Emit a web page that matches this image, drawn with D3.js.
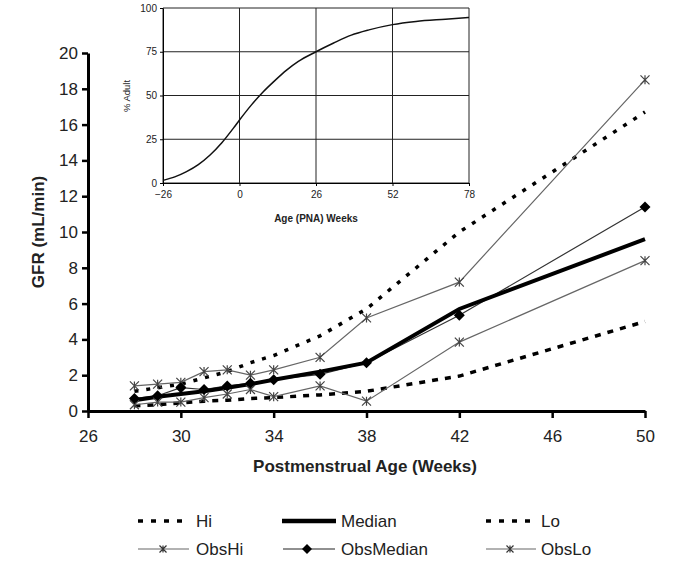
<!DOCTYPE html>
<html><head><meta charset="utf-8">
<script src="https://cdn.jsdelivr.net/npm/d3@7"></script>
<style>body{margin:0;background:#fff}svg{display:block}text{font-family:"Liberation Sans",Arial,sans-serif}</style>
</head><body><svg id="c" width="680" height="563"></svg>
<script>
// Main chart data
const weeks = [28,29,30,31,32,33,34,36,38,42,50];
const hi        = [1.1,1.3,1.5,1.85,2.2,2.7,3.1,4.2,5.7,10.0,16.7];
const median    = [0.6,0.8,0.95,1.1,1.3,1.5,1.75,2.2,2.7,5.7,9.6];
const lo        = [0.3,0.35,0.45,0.55,0.6,0.7,0.75,0.9,1.1,1.95,5.0];
const obsHi     = [1.4,1.5,1.6,2.2,2.3,2.0,2.3,3.0,5.2,7.2,18.5];
const obsMedian = [0.7,0.85,1.3,1.2,1.4,1.55,1.75,2.05,2.7,5.35,11.4];
const obsLo     = [0.35,0.5,0.5,0.75,0.95,1.2,0.8,1.4,0.55,3.85,8.4];
const xTicks = [26,30,34,38,42,46,50];
const yTicks = [0,2,4,6,8,10,12,14,16,18,20];
// Inset data
const pnaWeeks = [-26,-22,-18,-14,-10,-6,-2,0,4,8,12,16,20,26,32,38,44,52,60,70,78];
const pctAdult = [1.5,3.5,6.5,10.5,16,23,31.5,36,44.5,52,58.5,64.5,69.5,75,80,84.5,87.5,90.5,92.3,93.6,94.6];
const insetXTicks = [-26,0,26,52,78];
const insetYTicks = [0,25,50,75,100];

const svg = d3.select("#c");
const x = d3.scaleLinear().domain([26,50]).range([88,645]);
const y = d3.scaleLinear().domain([0,20]).range([411,53]);

// axes
const gx = svg.append("g").attr("transform","translate(0,411)")
  .call(d3.axisBottom(x).tickValues(xTicks).tickSize(7).tickPadding(12).tickSizeOuter(0));
gx.select(".domain").attr("stroke","#000").attr("stroke-width",3);
gx.selectAll(".tick line").attr("stroke-width",2.5);
gx.selectAll("text").attr("font-size",17).attr("fill","#222");
const gy = svg.append("g").attr("transform","translate(88,0)")
  .call(d3.axisLeft(y).tickValues(yTicks).tickSize(6).tickPadding(4).tickSizeOuter(0));
gy.select(".domain").attr("stroke","#000").attr("stroke-width",3);
gy.selectAll(".tick line").attr("stroke-width",2.5);
gy.selectAll("text").attr("font-size",17).attr("fill","#222");

svg.append("text").attr("x",365).attr("y",472).attr("text-anchor","middle")
  .attr("font-size",17).attr("font-weight","bold").attr("fill","#222").text("Postmenstrual Age (Weeks)");
svg.append("text").attr("transform","translate(44,232) rotate(-90)").attr("text-anchor","middle")
  .attr("font-size",17).attr("font-weight","bold").attr("fill","#222").text("GFR (mL/min)");

const line = d3.line().x((d,i)=>x(weeks[i])).y(d=>y(d));
function star(g, cx, cy, s, col){
  const p = `M${cx-s},${cy-s}L${cx+s},${cy+s}M${cx-s},${cy+s}L${cx+s},${cy-s}M${cx},${cy-s}L${cx},${cy+s}`;
  g.append("path").attr("d",p).attr("stroke",col).attr("stroke-width",1.2).attr("fill","none");
}
function diamond(g,cx,cy,s){
  g.append("path").attr("d",`M${cx},${cy-s}L${cx+s},${cy}L${cx},${cy+s}L${cx-s},${cy}Z`).attr("fill","#000");
}
const plot = svg.append("g");
plot.append("path").attr("d",line(lo)).attr("fill","none").attr("stroke","#000").attr("stroke-width",3.5).attr("stroke-dasharray","6,7");
plot.append("path").attr("d",line(hi)).attr("fill","none").attr("stroke","#000").attr("stroke-width",3.5).attr("stroke-dasharray","4,8");
plot.append("path").attr("d",line(obsLo)).attr("fill","none").attr("stroke","#666").attr("stroke-width",1.2);
plot.append("path").attr("d",line(obsHi)).attr("fill","none").attr("stroke","#666").attr("stroke-width",1.2);
plot.append("path").attr("d",line(obsMedian)).attr("fill","none").attr("stroke","#333").attr("stroke-width",1.2);
plot.append("path").attr("d",line(median)).attr("fill","none").attr("stroke","#000").attr("stroke-width",4);
obsHi.forEach((v,i)=>star(plot,x(weeks[i]),y(v),4.5,"#444"));
obsLo.forEach((v,i)=>star(plot,x(weeks[i]),y(v),4.5,"#444"));
obsMedian.forEach((v,i)=>diamond(plot,x(weeks[i]),y(v),5.5));

// inset
const ix = d3.scaleLinear().domain([-26,78]).range([163,469]);
const iy = d3.scaleLinear().domain([0,100]).range([183,8]);
const ins = svg.append("g");
ins.append("rect").attr("x",163).attr("y",8).attr("width",306).attr("height",175).attr("fill","#fff");
insetYTicks.forEach(t=>ins.append("line").attr("x1",163).attr("x2",469).attr("y1",iy(t)).attr("y2",iy(t)).attr("stroke","#222").attr("stroke-width",1));
insetXTicks.forEach(t=>ins.append("line").attr("x1",ix(t)).attr("x2",ix(t)).attr("y1",8).attr("y2",183).attr("stroke","#222").attr("stroke-width",1));
const iax = ins.append("g").attr("transform","translate(0,183)").call(d3.axisBottom(ix).tickValues(insetXTicks).tickSize(3).tickPadding(5).tickSizeOuter(0));
iax.selectAll("text").attr("font-size",10).attr("fill","#222");
const iay = ins.append("g").attr("transform","translate(163,0)").call(d3.axisLeft(iy).tickValues(insetYTicks).tickSize(3).tickPadding(3).tickSizeOuter(0));
iay.selectAll("text").attr("font-size",10).attr("fill","#222");
ins.append("path").attr("d",d3.line().x((d,i)=>ix(pnaWeeks[i])).y(d=>iy(d)).curve(d3.curveMonotoneX)(pctAdult))
  .attr("fill","none").attr("stroke","#111").attr("stroke-width",1.5);
ins.append("text").attr("x",316).attr("y",222).attr("text-anchor","middle").attr("font-size",10).attr("font-weight","bold").attr("fill","#222").text("Age (PNA) Weeks");
ins.append("text").attr("transform","translate(130,96) rotate(-90)").attr("text-anchor","middle").attr("font-size",9.5).attr("fill","#222").text("% Adult");

// legend
const leg = svg.append("g");
const r1 = 521, r2 = 549;
function legLine(x1,x2,yy,w,dash,col){
  const l = leg.append("line").attr("x1",x1).attr("x2",x2).attr("y1",yy).attr("y2",yy).attr("stroke",col).attr("stroke-width",w);
  if(dash) l.attr("stroke-dasharray",dash);
}
function legText(xx,yy,t){leg.append("text").attr("x",xx).attr("y",yy+6).attr("font-size",17).attr("fill","#222").text(t);}
legLine(138,190,r1,3.5,"5,8","#000"); legText(196,r1,"Hi");
legLine(282,336,r1,4.5,null,"#000"); legText(341,r1,"Median");
legLine(486,537,r1,3.5,"5,8","#000"); legText(541,r1,"Lo");
legLine(138,189,r2,1.2,null,"#666"); star(leg,163,r2,3.5,"#333"); legText(196,r2,"ObsHi");
legLine(283,335,r2,1.2,null,"#222"); diamond(leg,307,r2,5); legText(341,r2,"ObsMedian");
legLine(486,536,r2,1.2,null,"#666"); star(leg,510,r2,3.5,"#333"); legText(541,r2,"ObsLo");
</script></body></html>
